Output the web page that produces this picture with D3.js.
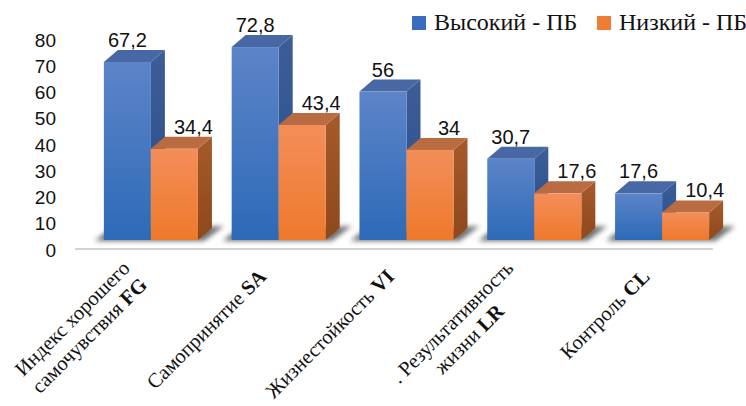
<!DOCTYPE html>
<html><head><meta charset="utf-8">
<script src="https://cdn.jsdelivr.net/npm/d3@7"></script>
<style>html,body{margin:0;padding:0;background:#fff;}svg{display:block;}</style>
</head><body>
<svg id="c" width="746" height="406"></svg>
<script>
const categoryKeys = ["FG","SA","VI","LR","CL"];
const categoryNames = [["Индекс хорошего","самочувствия"],["Самопринятие"],["Жизнестойкость"],[". Результативность","жизни"],["Контроль"]];
const seriesNames = ["Высокий - ПБ","Низкий - ПБ"];
const highValues = [67.2,72.8,56,30.7,17.6];
const lowValues = [34.4,43.4,34,17.6,10.4];
const yTicks = [0,10,20,30,40,50,60,70,80];

const svg = d3.select("#c");
const defs = svg.append("defs");
const fmt = v => String(v).replace(".", ",");

function grad(id, c1, c2){
  const g = defs.append("linearGradient").attr("id", id).attr("x1",0).attr("y1",0).attr("x2",0).attr("y2",1);
  g.append("stop").attr("offset","0%").attr("stop-color",c1);
  g.append("stop").attr("offset","100%").attr("stop-color",c2);
}
grad("bFront","#5d84c8","#2d6ab7");
grad("bSide","#3d5d97","#274e8b");
grad("oFront","#f38e59","#ee792b");
grad("oSide","#a65a2b","#8d481b");
const f = defs.append("filter").attr("id","shadow").attr("x","-20%").attr("y","-100%").attr("width","140%").attr("height","300%");
f.append("feGaussianBlur").attr("stdDeviation",2.5);

const styles = [
  {front:"url(#bFront)", top:"#4767a5", side:"url(#bSide)", legend:"#3a6cc0"},
  {front:"url(#oFront)", top:"#b96b41", side:"url(#oSide)", legend:"#f07d35"}
];

const x0 = d3.scaleBand().domain(categoryKeys).range([87, 726]).paddingInner(0.264).paddingOuter(0.132);
const x1 = d3.scaleBand().domain([0,1]).range([0, x0.bandwidth()]);
const yBar = d3.scaleLinear().domain([0,80]).range([240, 28]);
const yAxis = d3.scaleLinear().domain([0,80]).range([250, 40]);
const DX = 14, DY = 12;

// floor line
svg.append("line").attr("x1",75).attr("x2",713).attr("y1",249).attr("y2",249)
  .attr("stroke","#d4d4d4").attr("stroke-width",2);

// y axis labels
const ax = svg.append("g").attr("transform","translate(56,0)")
  .call(d3.axisLeft(yAxis).tickValues(yTicks).tickSize(0).tickPadding(0).tickFormat(d3.format("d")));
ax.select(".domain").remove();
ax.selectAll("text").attr("font-family","Liberation Sans, Arial, sans-serif").attr("font-size",19).attr("fill","#111");

const data = categoryKeys.map((k,i)=>({key:k, vals:[highValues[i], lowValues[i]]}));

// shadows
svg.append("g").selectAll("path").data(data).join("path")
  .attr("d", d => {
    const a = x0(d.key), b = a + x0.bandwidth();
    return `M${a-9},${241}L${a+2},${232}L${b+DX+12},${226}L${b+6},${241}Z`;
  })
  .attr("fill","#404040").attr("opacity",0.75)
  .attr("filter","url(#shadow)");

// bars
const groups = svg.append("g").selectAll("g").data(data).join("g")
  .attr("transform", d => `translate(${x0(d.key)},0)`);
groups.each(function(d){
  const g = d3.select(this);
  d.vals.forEach((v, s) => {
    const x = x1(s), w = x1.bandwidth(), t = yBar(v), b = yBar(0), st = styles[s];
    g.append("path").attr("d", `M${x+w},${t}L${x+w+DX},${t-DY}L${x+w+DX},${b-DY}L${x+w},${b}Z`).attr("fill", st.side);
    g.append("path").attr("d", `M${x},${t}L${x+DX},${t-DY}L${x+w+DX},${t-DY}L${x+w},${t}Z`).attr("fill", st.top);
    g.append("rect").attr("x", x).attr("y", t).attr("width", w).attr("height", b - t).attr("fill", st.front);
  });
});

// value labels
groups.each(function(d){
  const g = d3.select(this);
  d.vals.forEach((v, s) => {
    g.append("text")
      .attr("x", x1(s) + x1.bandwidth()/2 + (s === 1 ? 19 : 0))
      .attr("y", yBar(v) - 15)
      .attr("text-anchor","middle")
      .attr("font-family","Liberation Sans, Arial, sans-serif")
      .attr("font-size",20).attr("fill","#111")
      .text(fmt(v));
  });
});

// category labels
const FS = 20.5, LH = 24;
data.forEach((d, i) => {
  const lines = categoryNames[i];
  const cx = x0(d.key) + x0.bandwidth()/2;
  const g = svg.append("g").attr("transform", `translate(${cx - 16},273) rotate(-45)`);
  const texts = lines.map((ln, j) => {
    const t = g.append("text").attr("font-family","Liberation Serif, Times New Roman, serif")
      .attr("font-size",FS).attr("fill","#111").attr("text-anchor","middle");
    t.append("tspan").text(ln);
    if (j === lines.length - 1) {
      t.append("tspan").text(" ");
      t.append("tspan").attr("font-weight","bold").text(d.key);
    }
    return t;
  });
  const W = d3.max(texts, t => t.node().getComputedTextLength());
  const n = lines.length;
  texts.forEach((t, j) => {
    t.attr("x", -W/2).attr("y", (j - (n-1)/2) * LH + 0.33*FS);
  });
});

// legend
const leg = svg.append("g");
const legX = [412, 597];
seriesNames.forEach((nm, s) => {
  leg.append("rect").attr("x", legX[s]).attr("y", 16).attr("width",14).attr("height",14).attr("fill", styles[s].legend);
  leg.append("text").attr("x", legX[s] + 22).attr("y", 30)
    .attr("font-family","Liberation Serif, Times New Roman, serif").attr("font-size",24).attr("fill","#111").text(nm);
});
</script>
</body></html>
